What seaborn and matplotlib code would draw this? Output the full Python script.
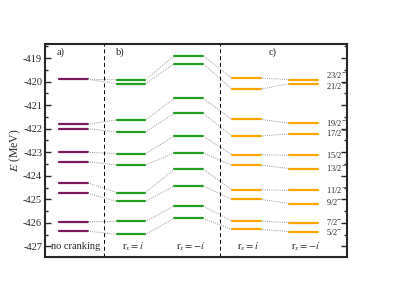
import numpy as np
import pandas as pd
import matplotlib
matplotlib.use("Agg")
import matplotlib.pyplot as plt
import seaborn as sns
from matplotlib.ticker import MultipleLocator

# ---- data (MeV) ----
E_nocrank = [-419.9, -421.8, -422.0, -423.0, -423.4, -424.3, -424.75, -425.95, -426.35]
E_b_pos = [-419.92, -420.09, -421.63, -422.14, -423.06, -423.54, -424.71, -425.09, -425.94, -426.49]
E_b_neg = [-418.9, -419.23, -420.71, -421.34, -422.31, -423.03, -423.72, -424.43, -425.28, -425.81]
E_c_pos = [-419.85, -420.32, -421.6, -422.31, -423.1, -423.55, -424.59, -425.0, -425.92, -426.28]
E_c_neg = [-419.91, -420.08, -421.77, -422.22, -423.13, -423.69, -424.62, -425.18, -425.99, -426.37]
spin_labels = ["23/2", "21/2", "19/2", "17/2", "15/2", "13/2", "11/2", "9/2", "7/2", "5/2"]
spin_label_E = [-419.72, -420.2, -421.75, -422.2, -423.1, -423.66, -424.6, -425.12, -425.95, -426.4]
column_labels = ["no cranking", r"$\mathrm{r}_x = i$", r"$\mathrm{r}_x = \mathrm{-}i$",
                 r"$\mathrm{r}_x = i$", r"$\mathrm{r}_x = \mathrm{-}i$"]
panel_labels = ["a)", "b)", "c)"]

columns = [E_nocrank, E_b_pos, E_b_neg, E_c_pos, E_c_neg]
col_colors = ["#7a1a5e", "#1f9e1f", "#1f9e1f", "#ffa500", "#ffa500"]
half = 0.25

sns.set_style("ticks")
plt.rcParams["font.family"] = ["Liberation Serif", "DejaVu Serif"]
plt.rcParams["mathtext.fontset"] = "stix"
plt.rcParams["axes.unicode_minus"] = False

fig = plt.figure(figsize=(4.15, 2.94), dpi=100)
ax = fig.add_axes([45 / 415, (294 - 257) / 294, 302 / 415, 213 / 294])

# level segments
rows = []
for ci, (lev, col) in enumerate(zip(columns, col_colors)):
    for li, e in enumerate(lev):
        uid = f"{ci}_{li}"
        rows.append(dict(x=ci - half, E=e, unit=uid, col=col))
        rows.append(dict(x=ci + half, E=e, unit=uid, col=col))
levels = pd.DataFrame(rows)
for col, sub in levels.groupby("col", sort=False):
    sns.lineplot(data=sub, x="x", y="E", units="unit", estimator=None,
                 color=col, lw=1.6, ax=ax, sort=False)

# connectors
conn = []
def link(c0, i0, c1, i1):
    uid = f"{c0}{i0}-{c1}{i1}"
    conn.append(dict(x=c0 + half, E=columns[c0][i0], unit=uid))
    conn.append(dict(x=c1 - half, E=columns[c1][i1], unit=uid))

link(0, 0, 1, 0)
for k in range(len(E_nocrank)):
    link(0, k, 1, k + 1)
for c in range(1, 4):
    for k in range(len(columns[c])):
        link(c, k, c + 1, k)
conn = pd.DataFrame(conn)
sns.lineplot(data=conn, x="x", y="E", units="unit", estimator=None,
             color="#9a9a9a", lw=0.7, ls=(0, (1, 1.2)), ax=ax, sort=False)

# separators
for xv in [0.53, 2.54]:
    ax.axvline(xv, color="black", lw=0.7, ls=(0, (4, 3)))

ax.set_xlim(-0.495, 4.75)
ax.set_ylim(-427.45, -418.4)
ax.yaxis.set_major_locator(MultipleLocator(1))
ax.yaxis.set_minor_locator(MultipleLocator(0.5))
ax.set_xticks([])
ax.tick_params(axis="y", which="both", direction="in", right=True, labelsize=7.5, width=1, pad=2)
ax.tick_params(axis="y", which="major", length=4.5)
ax.tick_params(axis="y", which="minor", length=2.5)
for s in ax.spines.values():
    s.set_linewidth(1.5)
ax.set_xlabel("")
ax.set_ylabel(r"$E$ (MeV)", fontsize=8.5, labelpad=0)

# texts
for ci, t in enumerate(column_labels):
    ax.text(ci + 0.03, -427.0, t, ha="center", va="center", fontsize=7.5)
for xp, t in zip([-0.23, 0.81, 3.45], panel_labels):
    ax.text(xp, -418.75, t, ha="center", va="center", fontsize=7.5)
for e, t in zip(spin_label_E, spin_labels):
    ax.text(4.39, e, t + r"$^{-}$", ha="left", va="center", fontsize=6)

fig.savefig("out.png", dpi=100)
